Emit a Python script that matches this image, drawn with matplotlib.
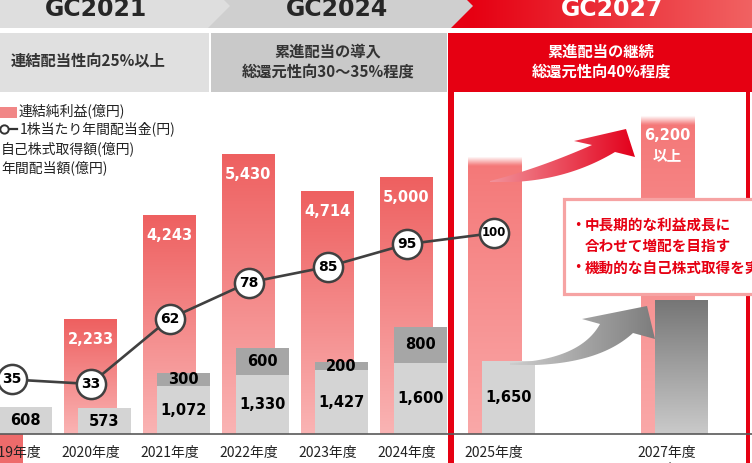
import numpy as np
import matplotlib
matplotlib.use('Agg')
import matplotlib.pyplot as plt
from matplotlib.patches import Rectangle, Polygon
from matplotlib.colors import to_rgb
import matplotlib.transforms as mtransforms

plt.rcParams['font.family'] = ['Noto Sans CJK JP', 'DejaVu Sans']

# ---- data (億円 / 円) ----
years = ['2019年度', '2020年度', '2021年度', '2022年度', '2023年度', '2024年度', '2025年度', '2027年度\n目標']
net_income = [np.nan, 2233, 4243, 5430, 4714, 5000, 5400, 6200]   # 2025 has no label
net_labels = ['', '2,233', '4,243', '5,430', '4,714', '5,000', '', '6,200\n以上']
dividends = [608, 573, 1072, 1330, 1427, 1600, 1650, np.nan]
buybacks = [0, 0, 300, 600, 200, 800, 0, 0]
total_return_2027 = 3000   # gray target bar, no label -> estimated
dps = [35, 33, 62, 78, 85, 95, 100]

# ---- layout ----
W, H = 752, 463
BASE = 434                 # pixel row of the baseline
x_pos = [0, 1, 2, 3, 4, 5, 6.11, 8.3]
PX = 79.0                  # pixels per slot
X0 = 11.5                  # pixel of slot 0
bw = 53 / PX
goff = 14 / PX
R_TOP, G_TOP = 8444, 9750
L_LIM = (10.8, 203.4)

fig = plt.figure(figsize=(W / 100, H / 100), dpi=100)
bg = fig.add_axes([0, 0, 1, 1], zorder=0)
rect = [0, (H - BASE) / H, 1, BASE / H]
ax_r = fig.add_axes(rect, zorder=1)
ax_g = fig.add_axes(rect, zorder=2)
ax_l = fig.add_axes(rect, zorder=3)
top = fig.add_axes([0, 0, 1, 1], zorder=4)
top.patch.set_alpha(0)


def grad_bar(ax, xc, w, h, c_bot, c_top, ytop, fade_px=0):
    t = np.linspace(0, 1, 200)[:, None]
    cb, ct = np.array(to_rgb(c_bot)), np.array(to_rgb(c_top))
    col = cb + (ct - cb) * t
    if fade_px:
        fr = fade_px / (h * BASE / ytop)
        f = np.clip((t - (1 - fr)) / fr, 0, 1)
        col = col * (1 - f) + f
    ax.imshow(col[:, None, :], extent=(xc - w / 2, xc + w / 2, 0, h), origin='lower',
              aspect='auto', interpolation='bilinear')


def bez(p0, p1, p2, n=40):
    t = np.linspace(0, 1, n)[:, None]
    p0, p1, p2 = map(np.array, (p0, p1, p2))
    return (1 - t) ** 2 * p0 + 2 * (1 - t) * t * p1 + t ** 2 * p2


def grad_poly(ax, pts, c0, c1):
    poly = Polygon(pts, closed=True, facecolor='none', edgecolor='none')
    ax.add_patch(poly)
    t = np.linspace(0, 1, 200)[None, :, None]
    c0, c1 = np.array(to_rgb(c0)), np.array(to_rgb(c1))
    col = c0 + (c1 - c0) * t
    im = ax.imshow(col, extent=(pts[:, 0].min(), pts[:, 0].max(), pts[:, 1].max(), pts[:, 1].min()),
                   aspect='auto', interpolation='bilinear')
    im.set_clip_path(poly)


# ---- background decoration (pixel coords) ----
red_band = np.array([to_rgb('#E60012'), to_rgb('#E60012'), to_rgb('#F16262')])
tt = np.linspace(0, 1, 300)
band = np.array([np.interp(tt, [0, 0.1, 1], red_band[:, k]) for k in range(3)]).T[None, :, :]
bg.imshow(band, extent=(440, W, 28, -16), aspect='auto', interpolation='bilinear')
bg.add_patch(Polygon([(190, -16), (451, -16), (473, 6), (451, 28), (190, 28)], color='#CFCFCF', lw=0))
bg.add_patch(Polygon([(0, -16), (208, -16), (230, 6), (208, 28), (0, 28)], color='#DEDEDE', lw=0))
for xc, s, c in [(96, 'GC2021', '#262626'), (337, 'GC2024', '#262626'), (612, 'GC2027', 'white')]:
    bg.text(xc, 16, s, ha='center', va='baseline', fontsize=17, fontweight='bold',
            family='DejaVu Sans', color=c)

bg.add_patch(Rectangle((0, 33), 209, 59, color='#E0E0E0', lw=0))
bg.add_patch(Rectangle((211, 33), 236, 59, color='#C9C9C9', lw=0))
bg.add_patch(Rectangle((449, 33), W - 449, 59, color='#E60012', lw=0))
bg.add_patch(Rectangle((448, 33), 6, H, color='#E60012', lw=0))
bg.add_patch(Rectangle((746, 33), 4, H, color='#E60012', lw=0))
bg.text(88, 61, '連結配当性向25%以上', ha='center', va='center', fontsize=11, fontweight='bold', color='#333333')
bg.text(328, 52, '累進配当の導入', ha='center', va='center', fontsize=11, fontweight='bold', color='#333333')
bg.text(328, 72, '総還元性向30～35%程度', ha='center', va='center', fontsize=11, fontweight='bold', color='#333333')
bg.text(601, 52, '累進配当の継続', ha='center', va='center', fontsize=11, fontweight='bold', color='white')
bg.text(601, 72, '総還元性向40%程度', ha='center', va='center', fontsize=11, fontweight='bold', color='white')

# legend
bg.add_patch(Rectangle((0, 107), 17, 11, color='#F18787', lw=0))
bg.plot([3, 17], [129, 129], color='#333333', lw=1.6)
bg.plot([4], [129], 'o', ms=6, mfc='white', mec='#333333', mew=1.4)
bg.text(19, 111, '連結純利益(億円)', va='center', fontsize=10, color='#222222')
bg.text(20, 129, '1株当たり年間配当金(円)', va='center', fontsize=10, color='#222222')
bg.text(1, 149, '自己株式取得額(億円)', va='center', fontsize=10, color='#222222')
bg.text(1, 168, '年間配当額(億円)', va='center', fontsize=10, color='#222222')
bg.add_patch(Rectangle((0, BASE), 23, H - BASE, color='#EE6B6B', lw=0))

# ---- net income bars ----
for i, (x, v) in enumerate(zip(x_pos, net_income)):
    if np.isnan(v):
        continue
    proj = i >= 6
    grad_bar(ax_r, x, bw, v, '#FAA8A8' if proj else '#FAB4B4', '#F47777' if proj else '#EE6060',
             R_TOP, fade_px=9 if proj else 0)
    lines = net_labels[i].split('\n')
    for k, s in enumerate(lines):
        ax_r.text(x, v - (20 + 20 * k) * R_TOP / BASE, s, ha='center', va='center', color='white',
                  fontsize=10.5, fontweight='bold',
                  family=['DejaVu Sans', 'Noto Sans CJK JP'] if k == 0 else 'Noto Sans CJK JP')

# ---- dividends / buybacks ----
for i, x in enumerate(x_pos[:7]):
    d, b = dividends[i], buybacks[i]
    ax_g.bar(x + goff, d, bw, color='#D4D4D4', lw=0)
    ax_g.text(x + goff, d / 2, f'{d:,}', ha='center', va='center', fontsize=10.5,
              fontweight='bold', family='DejaVu Sans', color='black')
    if b:
        ax_g.bar(x + goff, b, bw, bottom=d, color='#A6A6A6', lw=0)
        ax_g.text(x + goff, d + b / 2, f'{b:,}', ha='center', va='center', fontsize=10.5,
                  fontweight='bold', family='DejaVu Sans', color='black')
grad_bar(ax_g, x_pos[7] + goff, bw, total_return_2027, '#CACACA', '#767676', G_TOP)

# ---- dividend per share line ----
ax_l.plot(x_pos[:7], dps, '-', color='#404040', lw=1.9)
ax_l.plot(x_pos[:7], dps, 'o', ms=21, mfc='white', mec='#404040', mew=1.8)
for x, v in zip(x_pos, dps):
    ax_l.text(x, v, str(v), ha='center', va='center', fontsize=10 if v < 100 else 8.5,
              fontweight='bold', family='DejaVu Sans', color='black')

for a, yl in ((ax_r, (0, R_TOP)), (ax_g, (0, G_TOP)), (ax_l, L_LIM)):
    a.set_xlim(-X0 / PX, (W - X0) / PX)
    a.set_ylim(*yl)
    a.axis('off')

# year labels (x in data, y in pixels)
trans = mtransforms.blended_transform_factory(ax_r.transData, bg.transData)
for x, lab in zip(x_pos, years):
    for k, s in enumerate(lab.split('\n')):
        bg.text(x, 457 + 17 * k, s, transform=trans, ha='center', va='baseline',
                fontsize=10, color='#222222')

# ---- overlay: baseline, arrows, callout ----
top.plot([0, W], [BASE, BASE], color='#595959', lw=1.2)

up = bez((490, 181), (540, 168), (592, 145))
lo = bez((615, 152), (560, 185), (490, 182))
red_arrow = np.vstack([up, [(574, 141), (626, 129), (635, 157)], lo])
grad_poly(top, red_arrow, '#F2939B', '#E3001B')

up = bez((510, 363), (580, 360), (600, 324))
lo = bez((633, 333), (595, 368), (510, 365))
gray_arrow = np.vstack([up, [(582, 319), (647, 306), (655, 339)], lo])
grad_poly(top, gray_arrow, '#CDCDCD', '#7D7D7D')

top.add_patch(Rectangle((564, 199), 220, 95, facecolor='white', edgecolor='#F6A3A3', lw=2.3))
red = '#E60012'
for y, bullet, s in [(225, True, '中長期的な利益成長に'), (246, False, '合わせて増配を目指す'),
                     (268, True, '機動的な自己株式取得を実施')]:
    if bullet:
        top.text(578, y, '•', ha='center', va='center', fontsize=9, color=red, family='DejaVu Sans')
    top.text(585, y, s, ha='left', va='center', fontsize=10.5, fontweight='bold', color=red)

for a in (bg, top):
    a.set_xlim(0, W)
    a.set_ylim(H, 0)
    a.axis('off')

fig.savefig('out.png', dpi=100)
